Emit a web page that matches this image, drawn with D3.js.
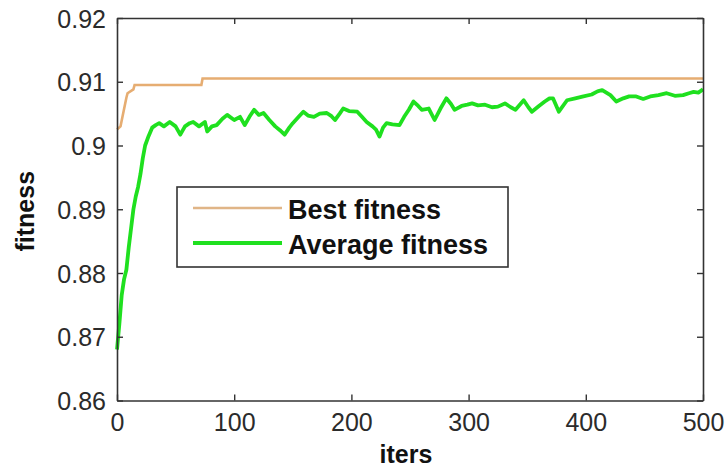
<!DOCTYPE html>
<html><head><meta charset="utf-8">
<script src="https://cdn.jsdelivr.net/npm/d3@7"></script>
<style>
html,body{margin:0;padding:0;background:#fff;}
svg{display:block;}
text{font-family:"Liberation Sans",Arial,sans-serif;}
</style></head>
<body>
<svg id="chart" width="727" height="469"></svg>
<script>
const xTicks = [0, 100, 200, 300, 400, 500];
const yTicks = [0.86, 0.87, 0.88, 0.89, 0.9, 0.91, 0.92];
const yTickLabels = ["0.86", "0.87", "0.88", "0.89", "0.9", "0.91", "0.92"];
const seriesNames = ["Best fitness", "Average fitness"];

const bestIters = [0, 3, 8, 9, 14, 15, 72, 73, 500];
const bestValues = [0.9025, 0.9030, 0.9075, 0.9082, 0.9088, 0.9095, 0.9095, 0.9105, 0.9105];

const avgIters = [0,2,4,6,8,10,12,14,16,18,20,22,24,27,30,33,36,40,45,50,54,58,62,65,70,75,77,81,85,90,94,100,105,109,113,117,121,125,130,135,139,143,147,150,155,159,163,168,173,179,183,186,190,193,198,205,209,213,218,221,224,227,230,235,241,245,249,253,257,260,266,271,276,281,285,288,294,299,303,308,314,320,325,331,336,340,347,351,354,360,365,369,372,377,384,391,398,405,410,414,421,426,432,437,443,449,455,462,469,476,483,488,492,496,500];
const avgValues = [0.868,0.872,0.8765,0.879,0.8805,0.884,0.887,0.890,0.892,0.8935,0.8955,0.898,0.900,0.9015,0.9028,0.9032,0.9035,0.9030,0.9037,0.9030,0.9017,0.9030,0.9035,0.9037,0.9030,0.9037,0.9022,0.9030,0.9032,0.9042,0.9048,0.9040,0.9045,0.9032,0.9045,0.9056,0.9048,0.9051,0.9040,0.9030,0.9024,0.9017,0.9028,0.9035,0.9045,0.9053,0.9047,0.9045,0.9050,0.9051,0.9046,0.9040,0.9050,0.9058,0.9054,0.9053,0.9045,0.9037,0.9030,0.9025,0.9014,0.9028,0.9035,0.9033,0.9032,0.9045,0.9056,0.9069,0.9062,0.9056,0.9058,0.9040,0.9058,0.9074,0.9065,0.9056,0.9062,0.9064,0.9066,0.9063,0.9064,0.9060,0.9061,0.9066,0.9060,0.9056,0.9071,0.9060,0.9053,0.9062,0.9069,0.9074,0.9074,0.9053,0.9071,0.9074,0.9077,0.9080,0.9085,0.9087,0.9079,0.9069,0.9074,0.9077,0.9077,0.9073,0.9077,0.9079,0.9082,0.9078,0.9079,0.9082,0.9084,0.9083,0.9088];

const svg = d3.select("#chart");
const L = 117, R = 703, T = 18, B = 400.5;
const x = d3.scaleLinear().domain([0, 500]).range([L, R]);
const y = d3.scaleLinear().domain([0.86, 0.92]).range([B, T]);
const axisColor = "#333";
const textColor = "#2b2b2b";

// lines
const bestData = bestIters.map((d, i) => [d, bestValues[i]]);
const avgData = avgIters.map((d, i) => [d, avgValues[i]]);
const line = d3.line().x(d => x(d[0])).y(d => y(d[1]));

svg.append("path").datum(bestData).attr("d", line)
  .attr("fill", "none").attr("stroke", "#e6ad72").attr("stroke-width", 2.6);
svg.append("path").datum(avgData).attr("d", line)
  .attr("fill", "none").attr("stroke", "#1fe01f").attr("stroke-width", 3.8)
  .attr("stroke-linejoin", "round");

// axes (ticks inward) bottom/left with labels, top/right without
const tickLen = 6;
const gB = svg.append("g").attr("transform", `translate(0,${B})`)
  .call(d3.axisBottom(x).tickValues(xTicks).tickSize(-tickLen).tickPadding(13).tickSizeOuter(0));
const gL = svg.append("g").attr("transform", `translate(${L},0)`)
  .call(d3.axisLeft(y).tickValues(yTicks).tickFormat((d, i) => yTickLabels[i]).tickSize(-tickLen).tickPadding(11).tickSizeOuter(0));
const gT = svg.append("g").attr("transform", `translate(0,${T})`)
  .call(d3.axisTop(x).tickValues(xTicks).tickSize(-tickLen).tickFormat("").tickSizeOuter(0));
const gR = svg.append("g").attr("transform", `translate(${R},0)`)
  .call(d3.axisRight(y).tickValues(yTicks).tickSize(-tickLen).tickFormat("").tickSizeOuter(0));

[gB, gL, gT, gR].forEach(g => {
  g.select(".domain").attr("stroke", axisColor).attr("stroke-width", 1.6);
  g.selectAll(".tick line").attr("stroke", axisColor).attr("stroke-width", 1.4);
});
gB.selectAll(".tick text").attr("font-size", 25).attr("fill", textColor)
  .attr("font-family", "Liberation Sans, Arial, sans-serif").attr("dy", "0.71em");
gL.selectAll(".tick text").attr("font-size", 25).attr("fill", textColor)
  .attr("font-family", "Liberation Sans, Arial, sans-serif").attr("dy", "0.36em");

// axis titles
svg.append("text").attr("x", (L + R) / 2 - 4).attr("y", 463)
  .attr("text-anchor", "middle").attr("font-size", 25).attr("font-weight", "bold")
  .attr("fill", "#111").text("iters");
svg.append("text").attr("transform", `translate(34,${(T + B) / 2 + 2}) rotate(-90)`)
  .attr("text-anchor", "middle").attr("font-size", 25).attr("font-weight", "bold")
  .attr("fill", "#111").text("fitness");

// legend
const leg = svg.append("g");
leg.append("rect").attr("x", 177).attr("y", 187).attr("width", 331).attr("height", 80)
  .attr("fill", "#fff").attr("stroke", axisColor).attr("stroke-width", 1.6);
const legColors = ["#e0b587", "#1fe01f"];
const legWidths = [2.6, 3.8];
seriesNames.forEach((name, i) => {
  const ly = 208 + i * 35;
  leg.append("line").attr("x1", 193).attr("x2", 282).attr("y1", ly).attr("y2", ly)
    .attr("stroke", legColors[i]).attr("stroke-width", legWidths[i]);
  leg.append("text").attr("x", 288).attr("y", ly + 11).attr("font-size", 27)
    .attr("font-weight", "bold").attr("fill", "#111").text(name);
});
</script>
</body></html>
